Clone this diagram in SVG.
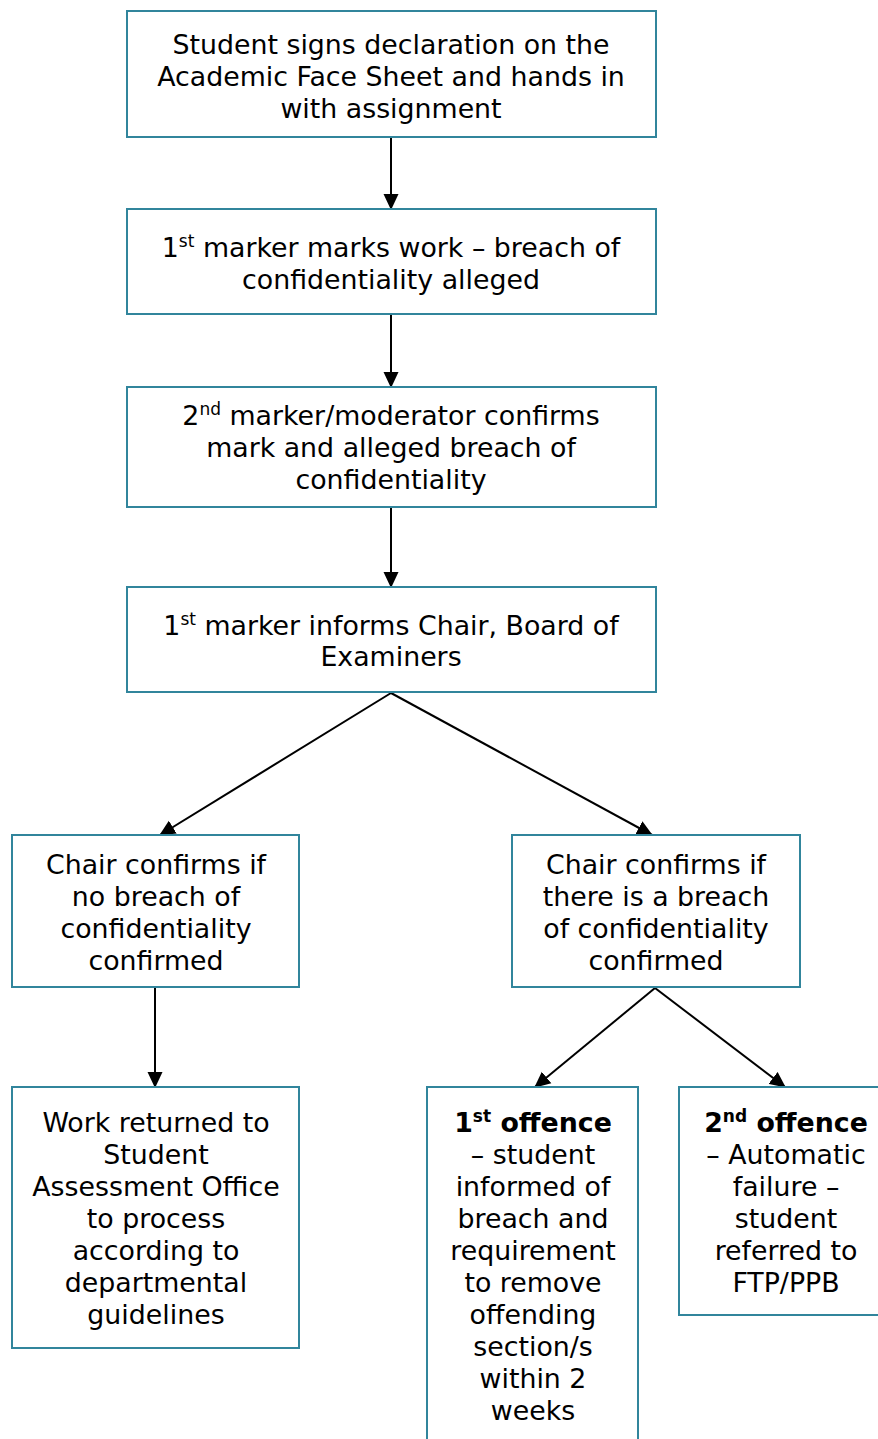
<svg xmlns="http://www.w3.org/2000/svg" width="878" height="1439" viewBox="0 0 878 1439">
<style>
.box{fill:#fff;stroke:#31859c;stroke-width:2}
.t{font-family:"DejaVu Sans",Verdana,sans-serif;font-size:26.8px;fill:#000;text-anchor:middle}
.b{font-weight:bold}
.sup{font-size:17px}
.c{stroke:#000;stroke-width:2;fill:none;marker-end:url(#ah)}
</style>
<defs>
<marker id="ah" markerWidth="16" markerHeight="16" refX="15" refY="8" orient="auto" markerUnits="userSpaceOnUse" viewBox="0 0 16 16">
<path d="M0,0.5 L16,8 L0,15.5 z" fill="#000"/>
</marker>
</defs>
<rect width="878" height="1439" fill="#fff"/>
<g id="connectors">
<line class="c" x1="391" y1="138" x2="391" y2="209"/>
<line class="c" x1="391" y1="315" x2="391" y2="387"/>
<line class="c" x1="391" y1="508" x2="391" y2="587"/>
<line class="c" x1="391" y1="693" x2="160" y2="835"/>
<line class="c" x1="391" y1="693" x2="652" y2="835"/>
<line class="c" x1="155" y1="988" x2="155" y2="1087"/>
<line class="c" x1="655" y1="988" x2="535" y2="1087"/>
<line class="c" x1="655" y1="988" x2="785" y2="1087"/>
</g>
<g id="n1">
<rect class="box" x="127" y="11" width="529" height="126"/>
<text class="t" x="391" y="54">Student signs declaration on the</text>
<text class="t" x="391" y="86">Academic Face Sheet and hands in</text>
<text class="t" x="391" y="118">with assignment</text>
</g>
<g id="n2">
<rect class="box" x="127" y="209" width="529" height="105"/>
<text class="t" x="391" y="257">1<tspan class="sup" dy="-10">st</tspan><tspan dy="10"> marker marks work – breach of</tspan></text>
<text class="t" x="391" y="289">confidentiality alleged</text>
</g>
<g id="n3">
<rect class="box" x="127" y="387" width="529" height="120"/>
<text class="t" x="391" y="425">2<tspan class="sup" dy="-10">nd</tspan><tspan dy="10"> marker/moderator confirms</tspan></text>
<text class="t" x="391" y="457">mark and alleged breach of</text>
<text class="t" x="391" y="489">confidentiality</text>
</g>
<g id="n4">
<rect class="box" x="127" y="587" width="529" height="105"/>
<text class="t" x="391" y="635">1<tspan class="sup" dy="-10">st</tspan><tspan dy="10"> marker informs Chair, Board of</tspan></text>
<text class="t" x="391" y="666">Examiners</text>
</g>
<g id="n5">
<rect class="box" x="12" y="835" width="287" height="152"/>
<text class="t" x="156" y="874">Chair confirms if</text>
<text class="t" x="156" y="906">no breach of</text>
<text class="t" x="156" y="938">confidentiality</text>
<text class="t" x="156" y="970">confirmed</text>
</g>
<g id="n6">
<rect class="box" x="512" y="835" width="288" height="152"/>
<text class="t" x="656" y="874">Chair confirms if</text>
<text class="t" x="656" y="906">there is a breach</text>
<text class="t" x="656" y="938">of confidentiality</text>
<text class="t" x="656" y="970">confirmed</text>
</g>
<g id="n7">
<rect class="box" x="12" y="1087" width="287" height="261"/>
<text class="t" x="156" y="1132">Work returned to</text>
<text class="t" x="156" y="1164">Student</text>
<text class="t" x="156" y="1196">Assessment Office</text>
<text class="t" x="156" y="1228">to process</text>
<text class="t" x="156" y="1260">according to</text>
<text class="t" x="156" y="1292">departmental</text>
<text class="t" x="156" y="1324">guidelines</text>
</g>
<g id="n8">
<rect class="box" x="427" y="1087" width="211" height="370"/>
<text class="t b" x="533" y="1132">1<tspan class="sup" dy="-10">st</tspan><tspan dy="10"> offence</tspan></text>
<text class="t" x="533" y="1164">– student</text>
<text class="t" x="533" y="1196">informed of</text>
<text class="t" x="533" y="1228">breach and</text>
<text class="t" x="533" y="1260">requirement</text>
<text class="t" x="533" y="1292">to remove</text>
<text class="t" x="533" y="1324">offending</text>
<text class="t" x="533" y="1356">section/s</text>
<text class="t" x="533" y="1388">within 2</text>
<text class="t" x="533" y="1420">weeks</text>
</g>
<g id="n9">
<rect class="box" x="679" y="1087" width="215" height="228"/>
<text class="t b" x="786" y="1132">2<tspan class="sup" dy="-10">nd</tspan><tspan dy="10"> offence</tspan></text>
<text class="t" x="786" y="1164">– Automatic</text>
<text class="t" x="786" y="1196">failure –</text>
<text class="t" x="786" y="1228">student</text>
<text class="t" x="786" y="1260">referred to</text>
<text class="t" x="786" y="1292">FTP/PPB</text>
</g>
</svg>
